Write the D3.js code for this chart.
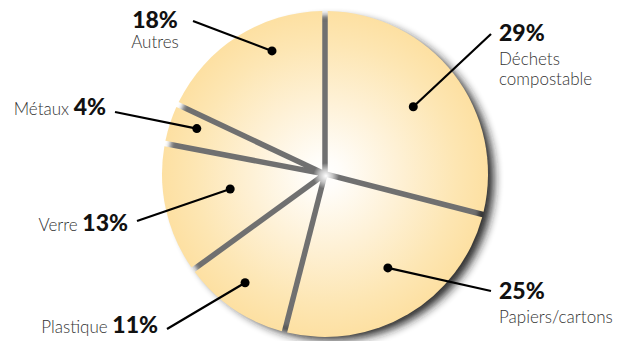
<!DOCTYPE html>
<html><head><meta charset="utf-8">
<script src="https://cdn.jsdelivr.net/npm/d3@7"></script>
<style>body{margin:0;background:#fff} svg{display:block}</style>
</head><body><svg id="c" width="624" height="341"></svg>
<script>
// ---- data ----
const categories = ["Déchets compostable", "Papiers/cartons", "Plastique", "Verre", "Métaux", "Autres"];
const values = [29, 25, 11, 13, 4, 18];
const percentLabels = ["29%", "25%", "11%", "13%", "4%", "18%"];
const nameLines = [["Déchets", "compostable"], ["Papiers/cartons"], ["Plastique"], ["Verre"], ["Métaux"], ["Autres"]];

// ---- layout (styling, not data) ----
const W = 624, H = 341;
const cx = 325, cy = 174, R = 163, gap = 5.5;
const labelMode = ["stackStart", "stackStart", "inline", "inline", "inline", "stackMid"];
const labelPos = [[499, 41], [499, 299], [158, 333], [128, 231], [106, 115], [155, 28]];
const lineStart = [[491, 34], [491, 291], [167, 329], [137, 221], [115, 112], [193, 21]];
const dotRadius = [111, 113, 135, 96, 136, 134];
const dotAngleShift = [0.5, -3.2, 2.1, 3.6, 1.5, 9.1]; // degrees

const svg = d3.select("#c");
const defs = svg.append("defs");

const grad = defs.append("radialGradient").attr("id", "sliceGrad")
  .attr("gradientUnits", "userSpaceOnUse").attr("cx", 0).attr("cy", 0).attr("r", R);
[[0, "#ffffff"], [0.1, "#fffdf9"], [0.45, "#fef1d6"], [0.8, "#fde6b3"], [1, "#fde0a2"]]
  .forEach(([o, c]) => grad.append("stop").attr("offset", o).attr("stop-color", c));

const glow = defs.append("radialGradient").attr("id", "glow");
[[0, "#ffffff", 1], [0.5, "#ffffff", 0.6], [1, "#ffffff", 0]]
  .forEach(([o, c, op]) => glow.append("stop").attr("offset", o).attr("stop-color", c).attr("stop-opacity", op));

function addBlur(id, sd) {
  const f = defs.append("filter").attr("id", id)
    .attr("x", "-15%").attr("y", "-15%").attr("width", "130%").attr("height", "130%");
  f.append("feGaussianBlur").attr("stdDeviation", sd);
}
addBlur("blurOuter", 5);
addBlur("blurInner", 2.5);

const pie = d3.pie().sort(null).value(d => d)(values);

// slice path with parallel-sided gaps (built with d3.path from pie angles)
function slicePath(d) {
  const a0 = d.startAngle, a1 = d.endAngle, th = a1 - a0, hw = gap / 2;
  const h = hw / Math.sin(th / 2), am = (a0 + a1) / 2;
  const dl = Math.asin(hw / R);
  const p = d3.path();
  p.moveTo(h * Math.sin(am), -h * Math.cos(am));
  p.lineTo(R * Math.sin(a0 + dl), -R * Math.cos(a0 + dl));
  p.arc(0, 0, R, a0 + dl - Math.PI / 2, a1 - dl - Math.PI / 2);
  p.closePath();
  return p.toString();
}

// dark cast shadow (lower right) + gray gap fill + central glow
svg.append("circle").attr("cx", cx + 8).attr("cy", cy + 5).attr("r", R - 2)
  .attr("fill", "#1e1e1e").attr("opacity", 0.95).attr("filter", "url(#blurOuter)");
svg.append("circle").attr("cx", cx + 1).attr("cy", cy + 1).attr("r", R - 5)
  .attr("fill", "#707070").attr("filter", "url(#blurInner)");
svg.append("circle").attr("cx", cx + 1).attr("cy", cy + 2).attr("r", 13).attr("fill", "url(#glow)");

const g = svg.append("g").attr("transform", `translate(${cx},${cy})`);
g.selectAll("path").data(pie).join("path")
  .attr("d", slicePath)
  .attr("fill", "url(#sliceGrad)");

// leader lines + dots
const dots = pie.map((d, i) => {
  const a = (d.startAngle + d.endAngle) / 2 + dotAngleShift[i] * Math.PI / 180;
  return [cx + dotRadius[i] * Math.sin(a), cy - dotRadius[i] * Math.cos(a)];
});
svg.append("g").selectAll("line").data(dots).join("line")
  .attr("x1", (d, i) => lineStart[i][0]).attr("y1", (d, i) => lineStart[i][1])
  .attr("x2", d => d[0]).attr("y2", d => d[1])
  .attr("stroke", "#000").attr("stroke-width", 2.2);
svg.append("g").selectAll("circle").data(dots).join("circle")
  .attr("cx", d => d[0]).attr("cy", d => d[1]).attr("r", 4.5).attr("fill", "#000");

// labels
const fontFam = "Lato, 'Open Sans', sans-serif";
categories.forEach((c, i) => {
  const [x, y] = labelPos[i];
  const mode = labelMode[i];
  if (mode === "inline") {
    const t = svg.append("text").attr("x", x).attr("y", y).attr("text-anchor", "end")
      .attr("font-family", fontFam);
    t.append("tspan").text(nameLines[i][0] + " ").attr("font-size", 17).attr("font-weight", 300).attr("fill", "#333");
    t.append("tspan").text(percentLabels[i]).attr("font-size", 23).attr("font-weight", 900).attr("fill", "#111");
  } else {
    const anchor = mode === "stackMid" ? "middle" : "start";
    svg.append("text").attr("x", x).attr("y", y).attr("text-anchor", anchor)
      .attr("font-family", fontFam).attr("font-size", 23).attr("font-weight", 900).attr("fill", "#111")
      .text(percentLabels[i]);
    nameLines[i].forEach((ln, k) => {
      svg.append("text").attr("x", x).attr("y", y + (mode === "stackMid" ? 20 : 24) + k * 19.5)
        .attr("text-anchor", anchor).attr("font-family", fontFam)
        .attr("font-size", 17).attr("font-weight", 300).attr("fill", "#333").text(ln);
    });
  }
});
</script></body></html>
